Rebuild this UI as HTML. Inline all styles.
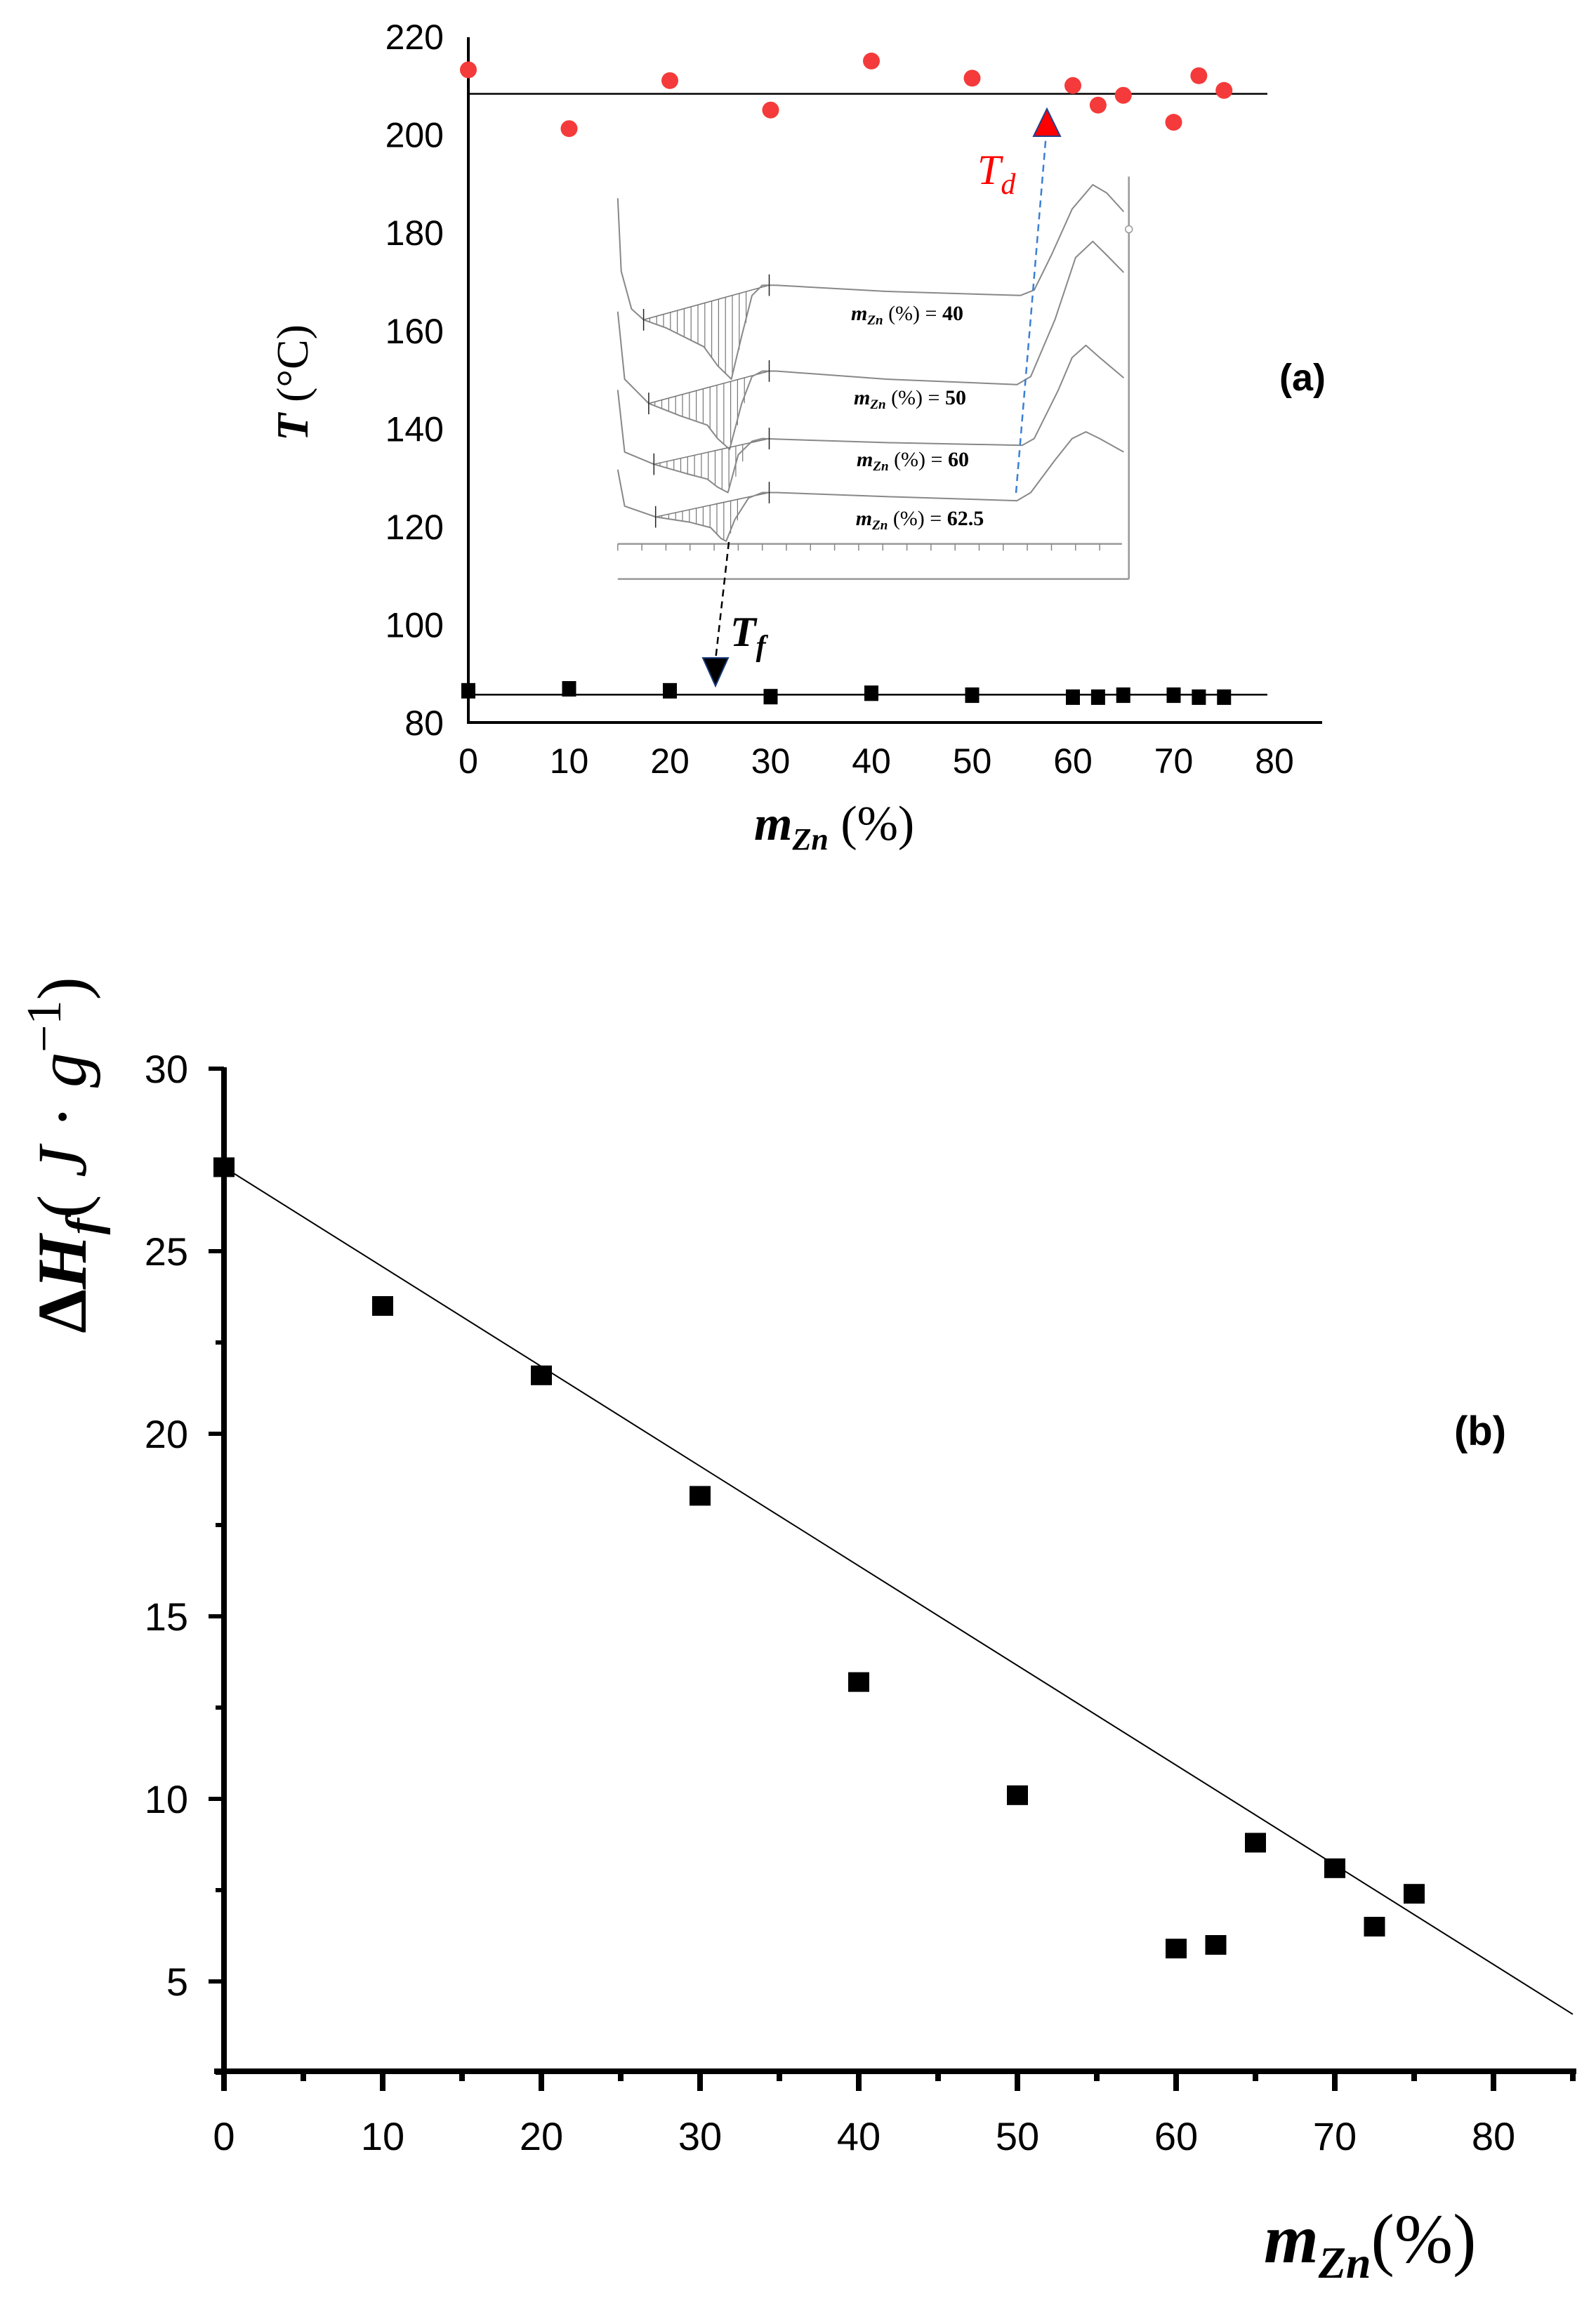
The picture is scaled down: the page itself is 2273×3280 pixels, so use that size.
<!DOCTYPE html>
<html><head><meta charset="utf-8"><style>
html,body{margin:0;padding:0;background:#fff;}
svg{display:block;}
text{font-family:"Liberation Sans",sans-serif;}
.serif{font-family:"Liberation Serif",serif;}
</style></head><body>
<svg id="fig" width="2273" height="3280" viewBox="0 0 2273 3280" xmlns="http://www.w3.org/2000/svg">
<rect width="2273" height="3280" fill="#fff"/>
<g id="pa"></g>
<g id="inset"></g>
<g id="pb"></g>
</svg>
<script>
const compA = [0,10,20,30,40,50,60,62.5,65,70,72.5,75];
const tdVals = [213.2,201.2,211,205,215,211.5,210,206,208,202.5,212,209];
const tfVals = [86.5,86.9,86.5,85.3,86,85.6,85.2,85.2,85.6,85.6,85.2,85.2];
const tdMean = 208.3;
const tfMean = 85.7;
const aXTicks = [0,10,20,30,40,50,60,70,80];
const aYTicks = [80,100,120,140,160,180,200,220];

const compB = [0,10,20,30,40,50,60,62.5,65,70,72.5,75];
const dhVals = [27.3,23.5,21.6,18.3,13.2,10.1,5.9,6.0,8.8,8.1,6.5,7.4];
const fitStart = [0,27.3];
const fitEnd = [85,4.1];
const bXTicks = [0,10,20,30,40,50,60,70,80];
const bYTicks = [5,10,15,20,25,30];

const NS="http://www.w3.org/2000/svg";
function mk(parent,tag,attrs,txt){const e=document.createElementNS(NS,tag);for(const k in attrs)e.setAttribute(k,attrs[k]);if(txt!==undefined)e.textContent=txt;parent.appendChild(e);return e;}

// ---------- Panel A ----------
const pa=document.getElementById('pa');
const xa=v=>667+v*14.35;
const ya=v=>52+(220-v)*6.98;
let e;
e=mk(pa,'line',{x1:667,y1:53,x2:667,y2:1029,stroke:'#000','stroke-width':4});


e=mk(pa,'line',{x1:665,y1:1029,x2:1883,y2:1029,stroke:'#000','stroke-width':4});


aYTicks.forEach(t=>{e=mk(pa,'text',{x:632,y:ya(t)+18,'font-size':50,'text-anchor':'end'},String(t));

});
aXTicks.forEach(t=>{e=mk(pa,'text',{x:xa(t),y:1101,'font-size':50,'text-anchor':'middle'},String(t));

});
e=mk(pa,'line',{x1:xa(0),y1:ya(tdMean),x2:xa(79.3),y2:ya(tdMean),stroke:'#000','stroke-width':2.5});


e=mk(pa,'line',{x1:xa(0),y1:ya(tfMean),x2:xa(79.3),y2:ya(tfMean),stroke:'#000','stroke-width':2.5});


compA.forEach((c,i)=>{e=mk(pa,'circle',{cx:xa(c),cy:ya(tdVals[i]),r:12,fill:'#f43a3a'});

});
compA.forEach((c,i)=>{e=mk(pa,'rect',{x:xa(c)-10,y:ya(tfVals[i])-11,width:20,height:22,fill:'#000'});

});
e=mk(pa,'text',{x:0,y:0,'font-size':64,transform:'translate(438,545) rotate(-90)','text-anchor':'middle',class:'serif'});
e.innerHTML='<tspan font-weight="bold" font-style="italic">T</tspan> (°C)';


e=mk(pa,'text',{x:1074,y:1196,'font-size':70,class:'serif'});
e.innerHTML='<tspan font-weight="bold" font-style="italic">m</tspan><tspan font-weight="bold" font-style="italic" font-size="44" dy="14">Zn</tspan><tspan dy="-14"> (%)</tspan>';


e=mk(pa,'text',{x:1855,y:556,'font-size':54,'font-weight':'bold','text-anchor':'middle'},'(a)');



// ---------- Inset ----------
const ins=document.getElementById('inset');
const ix=v=>870+v/2.04, iy=v=>240+v/2.6;
function P(pts){return pts.map((p,i)=>(i?'L':'M')+ix(p[0]).toFixed(1)+','+iy(p[1]).toFixed(1)).join(' ');}
const curves=[
 {pts:[[20,110],[30,380],[60,520],[95,560],[160,590],[270,660],[310,730],[350,780],[380,620],[410,470],[440,432],[480,432],[800,455],[1190,470],[1230,450],[1280,320],[1340,150],[1400,60],[1440,90],[1490,160]],t1:[95,560],t2:[460,432],min:[350,780]},
 {pts:[[20,530],[40,780],[110,870],[200,915],[280,950],[310,1000],[345,1040],[380,870],[410,770],[440,750],[480,750],[800,780],[1180,800],[1220,770],[1290,560],[1350,330],[1400,270],[1440,320],[1490,385]],t1:[110,870],t2:[460,750],min:[345,1040]},
 {pts:[[20,820],[40,1050],[125,1095],[220,1130],[280,1150],[310,1180],[340,1200],[370,1060],[410,1010],[440,1000],[480,1002],[800,1015],[1195,1025],[1230,1000],[1300,820],[1340,700],[1380,655],[1420,700],[1490,775]],t1:[125,1095],t2:[460,1000],min:[340,1200]},
 {pts:[[20,1115],[40,1250],[130,1290],[230,1310],[290,1330],[320,1370],[335,1380],[360,1300],[400,1220],[440,1200],[480,1200],[800,1215],[1180,1230],[1220,1200],[1290,1080],[1340,1000],[1380,975],[1420,1000],[1490,1050]],t1:[130,1290],t2:[460,1200],min:[335,1380]}
];
function interp(pts,x){for(let i=1;i<pts.length;i++){if(pts[i][0]>=x&&pts[i-1][0]<=x){const a=pts[i-1],b=pts[i];const t=(x-a[0])/((b[0]-a[0])||1);return a[1]+t*(b[1]-a[1]);}}return null;}
curves.forEach(c=>{
 let h='';
 for(let x=c.t1[0]+18;x<c.min[0]+45;x+=20){
   const yt=c.t1[1]+(x-c.t1[0])/(c.t2[0]-c.t1[0])*(c.t2[1]-c.t1[1]);
   const sub=c.pts.filter(p=>p[0]<=c.min[0]);
   let yc=interp(sub,Math.min(x,c.min[0]));
   if(x>c.min[0]){yc=c.min[1]+(x-c.min[0])/40*( yt-c.min[1])*0.6;}
   h+='M'+ix(x).toFixed(1)+','+iy(yt).toFixed(1)+' L'+ix(x).toFixed(1)+','+iy(yc).toFixed(1)+' ';
 }
 e=mk(ins,'path',{d:h,stroke:'#777','stroke-width':1.2,fill:'none'});
 
 
 e=mk(ins,'path',{d:P([c.t1,c.t2]),stroke:'#777','stroke-width':1.5,fill:'none'});
 
 
 e=mk(ins,'path',{d:P(c.pts),stroke:'#888','stroke-width':2,fill:'none','stroke-linejoin':'round'});
 
 
 [c.t1,c.t2].forEach(p=>{e=mk(ins,'path',{d:P([[p[0],p[1]-40],[p[0],p[1]+40]]),stroke:'#222','stroke-width':1.5});
 
 });
});
e=mk(ins,'path',{d:P([[20,1390],[1485,1390]])+' '+P([[20,1520],[1505,1520]])+' '+P([[1505,30],[1505,1520]]),stroke:'#999','stroke-width':2.5,fill:'none'});


let tk='';for(let x=20;x<1485;x+=70){tk+=P([[x,1390],[x,1415]])+' ';}
e=mk(ins,'path',{d:tk,stroke:'#888','stroke-width':1.5});


e=mk(ins,'circle',{cx:ix(1505),cy:iy(225),r:5,fill:'#fff',stroke:'#999','stroke-width':1.5});


[['40',1292,456],['50',1296,576],['60',1300,664],['62.5',1310,748]].forEach(l=>{
 e=mk(ins,'text',{x:l[1],y:l[2],'font-size':30,'text-anchor':'middle',class:'serif'});
 e.innerHTML='<tspan font-style="italic" font-weight="bold">m</tspan><tspan font-style="italic" font-weight="bold" font-size="19" dy="6">Zn</tspan><tspan dy="-6"> (%) = </tspan><tspan font-weight="bold">'+l[0]+'</tspan>';
 
 
});
e=mk(ins,'line',{x1:1447,y1:702,x2:1490,y2:190,stroke:'#3a7fd6','stroke-width':2.5,'stroke-dasharray':'10,7'});


e=mk(ins,'polygon',{points:'1491,155 1472,194 1510,194',fill:'#f00',stroke:'#24408e','stroke-width':2});


e=mk(ins,'line',{x1:1038,y1:772,x2:1019,y2:940,stroke:'#000','stroke-width':2.5,'stroke-dasharray':'10,7'});


e=mk(ins,'polygon',{points:'1001,937 1037,937 1019,977',fill:'#000',stroke:'#1a3a7a','stroke-width':2});


e=mk(ins,'text',{x:1392,y:262,'font-size':60,fill:'#f00','font-style':'italic',class:'serif'});
e.innerHTML='T<tspan font-size="42" dy="14">d</tspan>';


e=mk(ins,'text',{x:1040,y:920,'font-size':60,'font-weight':'bold','font-style':'italic',class:'serif'});
e.innerHTML='T<tspan font-size="42" dy="14">f</tspan>';



// ---------- Panel B ----------
const pb=document.getElementById('pb');
const xb=v=>319+v*22.6;
const yb=v=>1522+(30-v)*52;
e=mk(pb,'line',{x1:319,y1:1520,x2:319,y2:2954,stroke:'#000','stroke-width':8});


e=mk(pb,'line',{x1:305,y1:2950,x2:2245,y2:2950,stroke:'#000','stroke-width':8});


for(let v=2.5;v<=30;v+=2.5){const major=bYTicks.includes(v);
 e=mk(pb,'line',{x1:319-(major?22:12),y1:yb(v),x2:319,y2:yb(v),stroke:'#000','stroke-width':6});
 
 }
for(let v=0;v<=85;v+=5){const major=bXTicks.includes(v);
 e=mk(pb,'line',{x1:xb(v),y1:2950,x2:xb(v),y2:2950+(major?28:14),stroke:'#000','stroke-width':8});
 
 }
bYTicks.forEach(t=>{e=mk(pb,'text',{x:268,y:yb(t)+20,'font-size':56,'text-anchor':'end'},String(t));

});
bXTicks.forEach(t=>{e=mk(pb,'text',{x:xb(t),y:3062,'font-size':56,'text-anchor':'middle'},String(t));

});
e=mk(pb,'line',{x1:xb(fitStart[0]),y1:yb(fitStart[1]),x2:xb(fitEnd[0]),y2:yb(fitEnd[1]),stroke:'#000','stroke-width':2});


compB.forEach((c,i)=>{e=mk(pb,'rect',{x:xb(c)-15,y:yb(dhVals[i])-14,width:30,height:28,fill:'#000'});

});
e=mk(pb,'text',{x:0,y:0,'font-size':100,transform:'translate(122,1645) rotate(-90)','text-anchor':'middle',class:'serif'});
e.innerHTML='<tspan font-weight="bold">Δ</tspan><tspan font-weight="bold" font-style="italic">H</tspan><tspan font-weight="bold" font-style="italic" font-size="70" dy="20">f</tspan><tspan dy="-20">(</tspan><tspan font-style="italic"> J</tspan><tspan> · </tspan><tspan font-style="italic">g</tspan><tspan font-size="70" dy="-36">−1</tspan><tspan dy="36">)</tspan>';


e=mk(pb,'text',{x:1800,y:3222,'font-size':100,class:'serif'});
e.innerHTML='<tspan font-weight="bold" font-style="italic">m</tspan><tspan font-weight="bold" font-style="italic" font-size="64" dy="22">Zn</tspan><tspan dy="-22">(%)</tspan>';


e=mk(pb,'text',{x:2108,y:2058,'font-size':58,'font-weight':'bold','text-anchor':'middle'},'(b)');


</script>
</body></html>
